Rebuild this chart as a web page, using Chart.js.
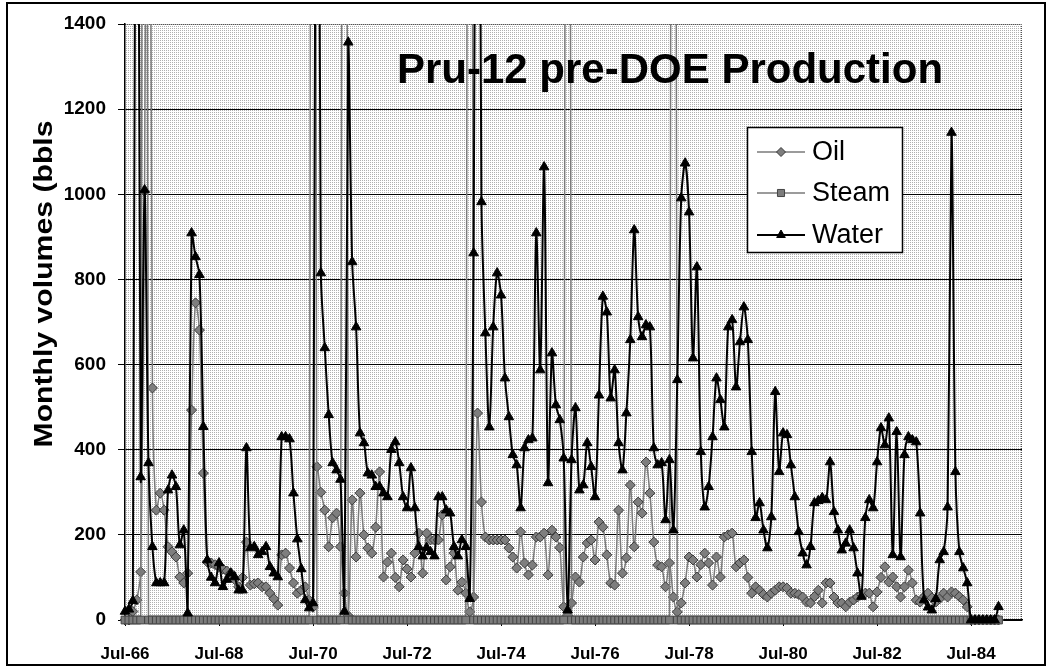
<!DOCTYPE html>
<html>
<head>
<meta charset="utf-8">
<script src="https://cdn.jsdelivr.net/npm/chart.js@4.4.1/dist/chart.umd.min.js"></script>
<style>
  body { margin: 0; background: #fff; }
  #wrap { width: 1050px; height: 670px; }
</style>
</head>
<body>
<div id="wrap"><canvas id="prod" width="1050" height="670"></canvas></div>
<script>
// month axis: Jul-66 onwards, labels shown every 2 years
const firstYear = 1966, firstMonth = 6, monthCount = 230;
const tickLabels = ['Jul-66', 'Jul-68', 'Jul-70', 'Jul-72', 'Jul-74', 'Jul-76', 'Jul-78', 'Jul-80', 'Jul-82', 'Jul-84'];
const yTicks = [0, 200, 400, 600, 800, 1000, 1200, 1400];

// monthly volumes, bbls (values above 1400 run off the top of the plot)
const oilVol = [
  0, 0, 20, 47, 113, 1007, 3000, 545, 258, 298, 258, 172, 160, 148, 101, 87, 110, 493, 745, 681, 345, 136, 134, 130,
  125, 120, 115, 110, 95, 78, 100, 183, 82, 85, 87, 78, 78, 63, 50, 35, 153, 157, 122, 87, 63, 70, 78, 47,
  30, 360, 300, 258, 172, 240, 251, 172, 63, 10, 282, 148, 298, 200, 169, 157, 218, 348, 101, 136, 157, 100, 78, 141,
  120, 101, 157, 204, 110, 204, 188, 188, 188, 247, 94, 125, 157, 70, 89, 63, 19, 54, 486, 277, 195, 188, 188, 188,
  188, 188, 169, 148, 122, 207, 134, 106, 129, 195, 195, 204, 106, 211, 195, 170, 31, 10, 40, 101, 89, 148, 181, 188,
  141, 230, 218, 153, 87, 82, 258, 110, 146, 317, 172, 277, 251, 371, 298, 183, 129, 125, 78, 134, 54, 19, 40, 87,
  148, 141, 101, 130, 157, 134, 82, 148, 101, 195, 200, 204, 125, 134, 141, 100, 63, 78, 70, 60, 54, 63, 70, 78,
  78, 75, 63, 63, 60, 54, 42, 40, 55, 70, 40, 87, 87, 54, 40, 40, 31, 42, 47, 54, 60, 63, 63, 31,
  66, 100, 125, 89, 101, 78, 54, 78, 117, 87, 47, 42, 55, 63, 52, 42, 50, 63, 54, 66, 63, 55, 47, 31,
  0, 0, 0, 0, 0, 0, 0, 0
];
const steamVol = [
  0, 0, 0, 0, 0, 6000, 0, 0, 0, 0, 0, 0, 0, 0, 0, 0, 0, 0, 0, 0, 0, 0, 0, 0,
  0, 0, 0, 0, 0, 0, 0, 0, 0, 0, 0, 0, 0, 0, 0, 0, 0, 0, 0, 0, 0, 0, 0, 0,
  6000, 0, 0, 0, 0, 0, 0, 0, 6000, 0, 0, 0, 0, 0, 0, 0, 0, 0, 0, 0, 0, 0, 0, 0,
  0, 0, 0, 0, 0, 0, 0, 0, 0, 0, 0, 0, 0, 0, 0, 0, 6000, 0, 0, 0, 0, 0, 0, 0,
  0, 0, 0, 0, 0, 0, 0, 0, 0, 0, 0, 0, 0, 0, 0, 0, 0, 6000, 0, 0, 0, 0, 0, 0,
  0, 0, 0, 0, 0, 0, 0, 0, 0, 0, 0, 0, 0, 0, 0, 0, 0, 0, 0, 0, 6000, 0, 0, 0,
  0, 0, 0, 0, 0, 0, 0, 0, 0, 0, 0, 0, 0, 0, 0, 0, 0, 0, 0, 0, 0, 0, 0, 0,
  0, 0, 0, 0, 0, 0, 0, 0, 0, 0, 0, 0, 0, 0, 0, 0, 0, 0, 0, 0, 0, 0, 0, 0,
  0, 0, 0, 0, 0, 0, 0, 0, 0, 0, 0, 0, 0, 0, 0, 0, 0, 0, 0, 0, 0, 0, 0, 0,
  0, 0, 0, 0, 0, 0, 0, 0
];
const waterVol = [
  20, 25, 45, 3000, 336, 1010, 369, 172, 87, 87, 87, 305, 340, 313, 176, 211, 16, 909, 853, 811, 454, 141, 100, 87,
  134, 78, 95, 110, 101, 70, 70, 404, 169, 172, 153, 160, 172, 125, 110, 101, 430, 430, 425, 298, 190, 120, 47, 28,
  40, 3000, 815, 639, 482, 369, 352, 330, 20, 1357, 841, 688, 439, 416, 345, 340, 313, 313, 298, 289, 400, 418, 369, 289,
  263, 357, 263, 172, 150, 170, 160, 150, 289, 289, 258, 251, 172, 150, 188, 172, 50, 862, 3000, 982, 674, 453, 688, 815,
  763, 568, 477, 388, 364, 263, 404, 423, 427, 909, 587, 1064, 322, 627, 505, 470, 380, 23, 376, 498, 305, 317, 416, 360,
  289, 528, 760, 723, 521, 587, 416, 352, 486, 658, 916, 712, 665, 693, 688, 404, 364, 369, 235, 376, 211, 564, 991, 1073,
  958, 615, 829, 395, 265, 313, 430, 568, 517, 453, 688, 705, 547, 653, 735, 658, 395, 240, 275, 211, 169, 242, 536, 348,
  439, 435, 364, 289, 207, 157, 129, 172, 275, 280, 287, 282, 371, 254, 211, 164, 180, 211, 169, 110, 55, 240, 282, 263,
  371, 451, 411, 474, 153, 442, 148, 388, 430, 423, 418, 251, 47, 30, 23, 50, 141, 160, 265, 1145, 348, 160, 122, 87,
  0, 0, 0, 0, 0, 0, 0, 31
];

const monthNames = ['Jan', 'Feb', 'Mar', 'Apr', 'May', 'Jun', 'Jul', 'Aug', 'Sep', 'Oct', 'Nov', 'Dec'];
const months = [];
for (let k = 0; k < monthCount; k++) {
  const m = (firstMonth + k) % 12;
  const y = firstYear + Math.floor((firstMonth + k) / 12);
  months.push(monthNames[m] + '-' + String(y).slice(2));
}

const FONT = '"Liberation Sans", Arial, Helvetica, sans-serif';

// light dotted mesh like the old Excel plot area fill
const meshTile = document.createElement('canvas');
meshTile.width = 2; meshTile.height = 2;
(function() {
  const g = meshTile.getContext('2d');
  g.fillStyle = '#ffffff'; g.fillRect(0, 0, 2, 2);
  g.fillStyle = '#b0b0b0'; g.fillRect(0, 0, 1, 1);
})();

const seriesStyle = {
  Oil:   { line: '#7a7a7a', width: 1.5, point: 'rectRot', radius: 5, fill: '#7e7e7e', edge: '#3a3a3a' },
  Steam: { line: '#7a7a7a', width: 1.5, point: 'rect', radius: 5.5, fill: '#7c7c7c', edge: '#444444' },
  Water: { line: '#000000', width: 2, point: 'triangle', radius: 5.5, fill: '#000000', edge: '#000000' }
};

const decor = {
  id: 'decor',
  beforeDraw(chart) {
    const ctx = chart.ctx, a = chart.chartArea;
    ctx.save();
    ctx.fillStyle = '#fff';
    ctx.fillRect(0, 0, chart.width, chart.height);
    ctx.fillStyle = ctx.createPattern(meshTile, 'repeat');
    ctx.fillRect(a.left, a.top, a.right - a.left, a.bottom - a.top);
    // dotted top and right edge of plot area
    ctx.strokeStyle = '#555';
    ctx.lineWidth = 1;
    ctx.setLineDash([1, 1]);
    ctx.beginPath();
    ctx.moveTo(a.left, a.top + 0.5);
    ctx.lineTo(a.right - 0.5, a.top + 0.5);
    ctx.lineTo(a.right - 0.5, a.bottom);
    ctx.stroke();
    ctx.restore();
  },
  afterDraw(chart) {
    const ctx = chart.ctx;
    ctx.save();
    ctx.fillStyle = '#000';

    // chart title inside the plot
    ctx.font = 'bold 42px ' + FONT;
    ctx.textAlign = 'center';
    ctx.textBaseline = 'alphabetic';
    ctx.fillText('Pru-12 pre-DOE Production', 670, 83);

    // y axis title
    const yTitle = 'Monthly volumes (bbls';
    ctx.font = 'bold 25px ' + FONT;
    const w = ctx.measureText(yTitle).width;
    ctx.save();
    ctx.translate(52, 284);
    ctx.rotate(-Math.PI / 2);
    ctx.scale(327 / w, 1);
    ctx.fillText(yTitle, 0, 0);
    ctx.restore();

    // legend box
    ctx.fillStyle = '#fff';
    ctx.fillRect(747, 127, 155, 125);
    ctx.strokeStyle = '#000';
    ctx.lineWidth = 1.5;
    ctx.strokeRect(747.5, 127.5, 155, 125);
    const rows = [['Oil', 152], ['Steam', 193], ['Water', 235]];
    rows.forEach(([name, y]) => {
      const s = seriesStyle[name];
      ctx.strokeStyle = s.line;
      ctx.lineWidth = s.width;
      ctx.beginPath();
      ctx.moveTo(757, y);
      ctx.lineTo(805, y);
      ctx.stroke();
      ctx.fillStyle = s.fill;
      ctx.strokeStyle = s.edge;
      ctx.lineWidth = 1;
      Chart.helpers.drawPoint(ctx, { pointStyle: s.point, radius: s.radius - 0.5, rotation: 0, borderWidth: 1 }, 781, y);
      ctx.fillStyle = '#000';
      ctx.font = '27px ' + FONT;
      ctx.textAlign = 'left';
      ctx.textBaseline = 'middle';
      ctx.fillText(name, 812, y + 1);
    });

    // outer frame
    ctx.strokeStyle = '#000';
    ctx.lineWidth = 2;
    ctx.strokeRect(7, 3, 1038, 662);
    ctx.restore();
  }
};

function seriesSet(name, values, order) {
  const s = seriesStyle[name];
  return {
    label: name,
    data: values,
    order: order,
    borderColor: s.line,
    borderWidth: s.width,
    pointStyle: s.point,
    pointRadius: s.radius,
    pointBackgroundColor: s.fill,
    pointBorderColor: s.edge,
    pointBorderWidth: 1,
    tension: 0.3,
    clip: { left: 10, top: 0, right: 10, bottom: 10 }
  };
}

new Chart(document.getElementById('prod'), {
  type: 'line',
  data: {
    labels: months,
    datasets: [
      seriesSet('Oil', oilVol, 3),
      seriesSet('Steam', steamVol, 2),
      seriesSet('Water', waterVol, 1)
    ]
  },
  options: {
    responsive: false,
    animation: false,
    devicePixelRatio: 1,
    layout: { padding: { left: 0, right: 28, top: 24, bottom: 0 } },
    plugins: {
      legend: { display: false },
      tooltip: { enabled: false },
      title: { display: false }
    },
    scales: {
      x: {
        type: 'category',
        offset: false,
        grid: { drawOnChartArea: false, color: '#000', tickLength: 6 },
        border: { display: true, color: '#000', width: 1.5 },
        ticks: {
          autoSkip: false,
          maxRotation: 0,
          minRotation: 0,
          padding: 18,
          color: '#000',
          font: { family: FONT, size: 17, weight: 'bold' },
          callback: function(value) {
            const lab = this.getLabelForValue(value);
            return tickLabels.includes(lab) ? lab : null;
          }
        },
        afterFit: scale => { scale.height = 50; }
      },
      y: {
        min: yTicks[0],
        max: yTicks[yTicks.length - 1],
        grid: {
          color: c => (c.tick && c.tick.value === 1400) ? 'rgba(0,0,0,0)' : '#000',
          tickColor: '#000',
          tickLength: 7,
          lineWidth: 1
        },
        border: { display: true, color: '#000', width: 1.5 },
        ticks: {
          stepSize: 200,
          padding: 12,
          color: '#000',
          font: { family: FONT, size: 19, weight: 'bold' },
          callback: v => String(v)
        },
        afterBuildTicks: scale => { scale.ticks = yTicks.map(v => ({ value: v })); },
        afterFit: scale => { scale.width = 125; }
      }
    }
  },
  plugins: [decor]
});
</script>
</body>
</html>
